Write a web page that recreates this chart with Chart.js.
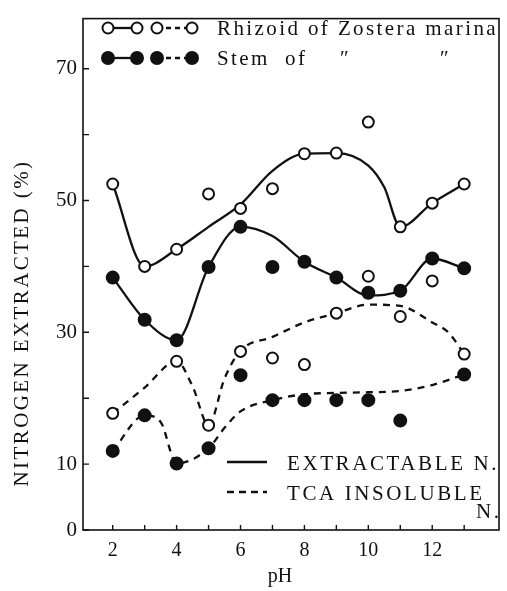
<!DOCTYPE html>
<html>
<head>
<meta charset="utf-8">
<script src="https://cdn.jsdelivr.net/npm/chart.js@4.4.1/dist/chart.umd.min.js"></script>
<style>
  html, body { margin: 0; padding: 0; background: #fff; }
  #wrap { width: 507px; height: 591px; }
</style>
</head>
<body>
<div id="wrap"><canvas id="chart" width="507" height="591"></canvas></div>
<script>
// pH values of the measured points
const phValues = [2, 3, 4, 5, 6, 7, 8, 9, 10, 11, 12, 13];

// measured points (% of nitrogen extracted)
const rhizoidExtract = [52.5, 40.0, 42.6, 51.0, 48.8, 51.8, 57.1, 57.2, 61.9, 46.0, 49.6, 52.5];
const rhizoidTca     = [17.7, null, 25.6, 15.9, 27.1, 26.1, 25.1, 32.9, 38.5, 32.4, 37.8, 26.7];
const stemExtract    = [38.3, 31.9, 28.8, 39.9, 46.0, 39.9, 40.7, 38.3, 36.0, 36.3, 41.2, 39.7];
const stemTca        = [12.0, 17.4, 10.1, 12.4, 23.5, 19.7, 19.7, 19.7, 19.7, 16.6, null, 23.6];

// hand-drawn curves
const rhizoidExtractCurvePh = [2, 3, 4, 5, 6, 7, 8, 9, 10, 10.5, 11, 12, 13];
const rhizoidExtractCurve   = [52.5, 40.0, 42.6, 46.0, 49.4, 54.5, 57.1, 57.2, 55.3, 52.0, 46.0, 49.6, 52.5];
const stemExtractCurvePh = [2, 3, 4, 5, 6, 7, 8, 9, 10, 11, 12, 13];
const stemExtractCurve   = [38.3, 31.9, 28.8, 39.9, 46.0, 44.6, 40.7, 38.3, 35.6, 36.3, 41.2, 39.7];
const rhizoidTcaCurvePh = [2, 3, 4, 4.5, 5, 5.5, 6, 7, 8, 9, 10, 11, 12, 12.5, 13];
const rhizoidTcaCurve   = [17.7, 21.6, 25.6, 21.8, 15.9, 23.0, 27.2, 29.3, 31.5, 32.9, 34.2, 34.0, 31.5, 30.0, 26.7];
const stemTcaCurvePh = [2, 3, 3.5, 4, 5, 5.5, 6, 7, 8, 9, 10, 11, 12, 13];
const stemTcaCurve   = [12.0, 17.4, 16.4, 10.1, 12.4, 15.5, 18.0, 19.7, 20.6, 20.8, 20.9, 21.1, 22.0, 23.6];

// axis ticks
const xTickValues = [2, 3, 4, 5, 6, 7, 8, 9, 10, 11, 12, 13];
const xTickLabels = [2, 4, 6, 8, 10, 12];
const yTickValues = [0, 10, 20, 30, 40, 50, 60, 70];
const yTickLabels = [0, 10, 30, 50, 70];

const INK = '#111';
const SERIF = "'Liberation Serif', 'DejaVu Serif', serif";

function pairs(xs, ys) {
	return xs.map((x, i) => ({ x, y: ys[i] })).filter(p => p.y !== null);
}

function pointSet(label, ys, filled) {
	return {
		label,
		type: 'scatter',
		data: pairs(phValues, ys),
		showLine: false,
		pointStyle: 'circle',
		pointRadius: filled ? 6 : 5.5,
		pointBorderWidth: 2,
		pointBackgroundColor: filled ? INK : '#fff',
		pointBorderColor: INK,
		order: 0
	};
}

function curveSet(label, xs, ys, dashed) {
	return {
		label,
		type: 'line',
		data: pairs(xs, ys),
		borderColor: INK,
		borderWidth: 2.3,
		borderDash: dashed ? [7, 6] : [],
		pointRadius: 0,
		fill: false,
		cubicInterpolationMode: 'monotone',
		order: 1
	};
}

// frame, inward tick marks and the hand-set labels
const decorations = {
	id: 'decorations',
	afterDraw(chart) {
		const { ctx, chartArea: a, scales } = chart;
		ctx.save();
		ctx.strokeStyle = INK;
		ctx.fillStyle = INK;
		ctx.lineWidth = 1.6;
		ctx.strokeRect(a.left, a.top, a.right - a.left, a.bottom - a.top);

		ctx.lineWidth = 1.4;
		ctx.beginPath();
		xTickValues.forEach(v => {
			const x = scales.x.getPixelForValue(v);
			ctx.moveTo(x, a.bottom);
			ctx.lineTo(x, a.bottom - 5);
		});
		yTickValues.forEach(v => {
			const y = scales.y.getPixelForValue(v);
			ctx.moveTo(a.left, y);
			ctx.lineTo(a.left + 6, y);
		});
		ctx.stroke();

		// y title
		ctx.font = `21px ${SERIF}`;
		ctx.letterSpacing = '2.4px';
		ctx.textAlign = 'center';
		ctx.textBaseline = 'middle';
		ctx.save();
		ctx.translate(22, 323);
		ctx.rotate(-Math.PI / 2);
		ctx.fillText('NITROGEN EXTRACTED (%)', 0, 0);
		ctx.restore();

		// x title
		ctx.letterSpacing = '0px';
		ctx.font = `20px ${SERIF}`;
		ctx.fillText('pH', 280, 577);

		// top legend
		const mx = [108, 137, 157, 192];
		[[28, false], [58, true]].forEach(([y, filled]) => {
			ctx.lineWidth = 2.3;
			ctx.setLineDash([]);
			ctx.beginPath();
			ctx.moveTo(mx[0], y); ctx.lineTo(mx[1], y);
			ctx.stroke();
			ctx.setLineDash([5, 4]);
			ctx.beginPath();
			ctx.moveTo(mx[2], y); ctx.lineTo(mx[3], y);
			ctx.stroke();
			ctx.setLineDash([]);
			ctx.lineWidth = 2;
			mx.forEach(x => {
				ctx.beginPath();
				ctx.arc(x, y, filled ? 6 : 5.5, 0, Math.PI * 2);
				ctx.fillStyle = filled ? INK : '#fff';
				ctx.fill();
				ctx.stroke();
			});
		});
		ctx.fillStyle = INK;
		ctx.textAlign = 'left';
		ctx.textBaseline = 'alphabetic';
		ctx.font = `21px ${SERIF}`;
		ctx.letterSpacing = '2.4px';
		ctx.fillText('Rhizoid of Zostera marina', 217, 35);
		ctx.fillText('Stem', 217, 65);
		ctx.fillText('of', 285, 65);
		ctx.fillText('\u2033', 340, 65);
		ctx.fillText('\u2033', 440, 65);

		// bottom legend
		ctx.lineWidth = 2.3;
		ctx.beginPath();
		ctx.moveTo(227, 462); ctx.lineTo(267, 462);
		ctx.stroke();
		ctx.setLineDash([7, 5]);
		ctx.beginPath();
		ctx.moveTo(227, 492); ctx.lineTo(267, 492);
		ctx.stroke();
		ctx.setLineDash([]);
		ctx.letterSpacing = '2.6px';
		ctx.fillText('EXTRACTABLE N.', 287, 470);
		ctx.fillText('TCA INSOLUBLE', 287, 500);
		ctx.fillText('N.', 476, 518);
		ctx.restore();
	}
};

new Chart(document.getElementById('chart').getContext('2d'), {
	data: {
		datasets: [
			pointSet('Rhizoid extractable', rhizoidExtract, false),
			pointSet('Rhizoid TCA insoluble', rhizoidTca, false),
			pointSet('Stem extractable', stemExtract, true),
			pointSet('Stem TCA insoluble', stemTca, true),
			curveSet('Rhizoid extractable curve', rhizoidExtractCurvePh, rhizoidExtractCurve, false),
			curveSet('Stem extractable curve', stemExtractCurvePh, stemExtractCurve, false),
			curveSet('Rhizoid TCA curve', rhizoidTcaCurvePh, rhizoidTcaCurve, true),
			curveSet('Stem TCA curve', stemTcaCurvePh, stemTcaCurve, true)
		]
	},
	options: {
		animation: false,
		responsive: false,
		layout: { padding: { top: 8, right: 5, left: 0, bottom: 0 } },
		plugins: { legend: { display: false }, tooltip: { enabled: false } },
		scales: {
			x: {
				type: 'linear',
				min: 1.07,
				max: 14.09,
				afterBuildTicks: (s) => { s.ticks = xTickValues.map(v => ({ value: v })); },
				afterFit: (s) => { s.height = 61; },
				grid: { display: false, drawTicks: false },
				border: { display: false },
				ticks: {
					color: INK,
					padding: 9,
					maxRotation: 0,
					autoSkip: false,
					font: { family: SERIF, size: 20 },
					callback: (v) => xTickLabels.includes(v) ? String(v) : ''
				}
			},
			y: {
				type: 'linear',
				min: 0,
				max: 77.6,
				afterBuildTicks: (s) => { s.ticks = yTickValues.map(v => ({ value: v })); },
				afterFit: (s) => { s.width = 83; },
				grid: { display: false, drawTicks: false },
				border: { display: false },
				ticks: {
					color: INK,
					padding: 6,
					autoSkip: false,
					font: { family: SERIF, size: 21 },
					callback: (v) => yTickLabels.includes(v) ? String(v) : ''
				}
			}
		}
	},
	plugins: [decorations]
});
</script>
</body>
</html>
